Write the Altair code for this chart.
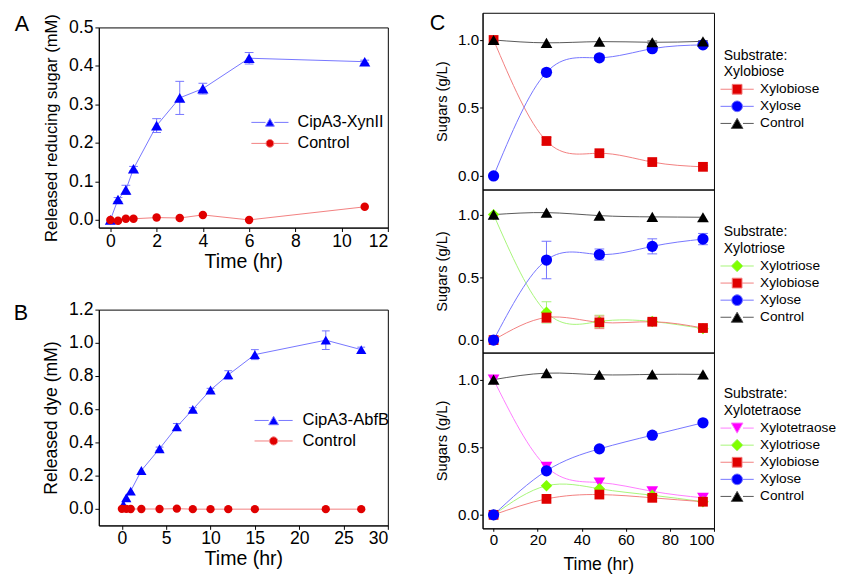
import altair as alt
import pandas as pd

FONT = "Liberation Sans"

# ---------------- data ----------------
# Panel A: released reducing sugar (mM) vs time (hr)
a_time = [0, 0.33, 0.67, 1, 2, 3, 4, 6, 11]
a_xynii = [0.0, 0.053, 0.078, 0.133, 0.245, 0.317, 0.341, 0.420, 0.411]
a_xynii_err = [0.0, 0.005, 0.012, 0.006, 0.018, 0.043, 0.014, 0.015, 0.004]
a_control = [0.0, -0.002, 0.003, 0.003, 0.006, 0.005, 0.013, 0.0, 0.034]
a_control_err = [0, 0, 0, 0, 0, 0, 0, 0, 0]

# Panel B: released dye (mM) vs time (hr)
b_time = [0.17, 0.5, 1, 2.2, 4.25, 6.2, 8, 10, 12, 15, 23, 27]
b_abfb = [0.025, 0.067, 0.107, 0.231, 0.362, 0.494, 0.599, 0.716, 0.807, 0.929, 1.016, 0.959]
b_abfb_err = [0, 0, 0, 0, 0.01, 0.02, 0.01, 0.01, 0.025, 0.03, 0.056, 0.015]
b_control_time = [0, 0.5, 1, 2.2, 4.25, 6.2, 8, 10, 12, 15, 23, 27]
b_control = [0.0, 0.0, -0.001, -0.001, -0.001, 0.001, -0.002, -0.002, -0.002, -0.002, -0.002, -0.002]
b_control_err = [0, 0, 0, 0, 0, 0, 0, 0, 0, 0, 0, 0]

# Panel C: sugars (g/L) vs time (hr)
c_time = [0, 24, 48, 72, 95]
c1_xylobiose = [1.0, 0.257, 0.167, 0.102, 0.067]
c1_xylobiose_err = [0, 0.025, 0.012, 0.01, 0.008]
c1_xylose = [0.0, 0.762, 0.869, 0.936, 0.964]
c1_xylose_err = [0, 0.022, 0.02, 0.012, 0.01]
c1_control = [1.0, 0.979, 0.988, 0.983, 0.99]
c1_control_err = [0, 0, 0, 0.01, 0.005]

c2_xylotriose = [1.0, 0.221, 0.148, 0.148, 0.091]
c2_xylotriose_err = [0, 0.085, 0.05, 0.02, 0.02]
c2_xylobiose = [0.0, 0.18, 0.141, 0.146, 0.096]
c2_xylobiose_err = [0, 0.04, 0.05, 0.02, 0.02]
c2_xylose = [0.0, 0.638, 0.682, 0.747, 0.805]
c2_xylose_err = [0, 0.15, 0.044, 0.06, 0.045]
c2_control = [1.0, 1.016, 0.992, 0.982, 0.979]
c2_control_err = [0, 0, 0, 0, 0]

c3_xylotetraose = [1.0, 0.355, 0.239, 0.174, 0.126]
c3_xylotriose = [0.0, 0.215, 0.193, 0.145, 0.097]
c3_xylobiose = [0.0, 0.118, 0.150, 0.126, 0.097]
c3_xylose = [0.0, 0.326, 0.488, 0.589, 0.681]
c3_control = [1.0, 1.048, 1.036, 1.039, 1.039]
c3_zero_err = [0, 0, 0, 0, 0]

# ---------------- styles ----------------
BLUE = ("#0000ff", "#7373ff")
RED = ("#e00000", "#f27d7d")
GREEN = ("#80ff00", "#a6f577")
MAGENTA = ("#ff00ff", "#ff7aff")
BLACK = ("#000000", "#555555")


def sym_path(shape, line_half, r, unit):
    L = line_half / unit
    s = r / unit
    if shape == "circle":
        m = f"M{s:.3f},0A{s:.3f},{s:.3f},0,1,1,{-s:.3f},0A{s:.3f},{s:.3f},0,1,1,{s:.3f},0Z"
    elif shape == "square":
        m = f"M{-s:.3f},{-s:.3f}H{s:.3f}V{s:.3f}H{-s:.3f}Z"
    elif shape == "triangle-up":
        h = s * 0.866
        m = f"M0,{-h:.3f}L{s:.3f},{h:.3f}L{-s:.3f},{h:.3f}Z"
    elif shape == "triangle-down":
        h = s * 0.866
        m = f"M0,{h:.3f}L{s:.3f},{-h:.3f}L{-s:.3f},{-h:.3f}Z"
    else:  # diamond
        m = f"M0,{-s:.3f}L{s:.3f},0L0,{s:.3f}L{-s:.3f},0Z"
    return f"M{-L:.3f},0H{-s:.3f}M{s:.3f},0H{L:.3f}" + m


def make_panel(series, xdom, ydom, width, height, xaxis, yaxis, legend,
               interp, cap, title, leg_line, leg_unit):
    frames = []
    for s in series:
        frames.append(pd.DataFrame({"time": s["t"], "value": s["v"],
                                    "err": s["e"], "series": s["name"]}))
    df = pd.concat(frames, ignore_index=True)
    df["lo"] = df["value"] - df["err"]
    df["hi"] = df["value"] + df["err"]
    base = alt.Chart(df)

    def X():
        return alt.X("time:Q", scale=alt.Scale(domain=xdom, nice=False, zero=False), axis=xaxis)

    def Y(field="value"):
        return alt.Y(f"{field}:Q", scale=alt.Scale(domain=ydom, nice=False, zero=False), axis=yaxis)

    layers = []
    for s in series:
        sel = base.transform_filter(alt.datum.series == s["name"])
        layers.append(sel.mark_line(color=s["c"][1], strokeWidth=1, interpolate=interp)
                      .encode(x=X(), y=Y()))
    for s in series:
        e = base.transform_filter((alt.datum.series == s["name"]) & (alt.datum.err > 0))
        layers.append(e.mark_rule(color=s["c"][1], strokeWidth=1)
                      .encode(x=X(), y=Y("lo"), y2="hi:Q"))
        for f in ("lo", "hi"):
            layers.append(e.mark_tick(orient="horizontal", color=s["c"][1], thickness=1,
                                      size=cap, opacity=1)
                          .encode(x=X(), y=Y(f)))
    for s in series:
        sel = base.transform_filter(alt.datum.series == s["name"])
        layers.append(sel.mark_point(shape=s["shape"], filled=True, size=s["size"],
                                     color=s["c"][0], opacity=1)
                      .encode(x=X(), y=Y()))
    names = [s["name"] for s in series]
    paths = [sym_path(s["shape"], leg_line, s["lr"], leg_unit) for s in series]
    leg = base.transform_filter("false").mark_point(filled=True, opacity=1).encode(
        x=X(), y=Y(),
        fill=alt.Fill("series:N", scale=alt.Scale(domain=names, range=[s["c"][0] for s in series]),
                      legend=legend),
        stroke=alt.Stroke("series:N", scale=alt.Scale(domain=names, range=[s["c"][1] for s in series]),
                          legend=legend),
        shape=alt.Shape("series:N", scale=alt.Scale(domain=names, range=paths), legend=legend),
    )
    layers.append(leg)
    ch = alt.layer(*layers).properties(width=width, height=height)
    if title is not None:
        ch = ch.properties(title=title)
    return ch


def letter(txt, dx, dy):
    return alt.Title(txt, anchor="start", frame="group", orient="top", offset=0,
                     baseline="alphabetic", dx=dx, dy=dy, fontSize=22, fontWeight="normal",
                     font=FONT, color="black")


def ab_axis_x(vals, size, tsize, tpad):
    return alt.Axis(values=vals, format="d", title="Time (hr)", titleFontSize=tsize,
                    labelFontSize=size, tickSize=4, labelPadding=1, titlePadding=tpad)


def ab_legend(x, y, size, unit, sym_off, lab_off, rowpad):
    return alt.Legend(title=None, orient="none", legendX=x, legendY=y, labelFontSize=size,
                      labelFont=FONT, labelColor="black", symbolSize=(2 * unit) ** 2,
                      symbolStrokeWidth=1, symbolOffset=sym_off, labelOffset=lab_off,
                      rowPadding=rowpad, padding=0)


# ---------------- panel A ----------------
A = make_panel(
    [dict(name="CipA3-XynII", t=a_time, v=a_xynii, e=a_xynii_err, c=BLUE,
          shape="triangle-up", size=130, lr=4.5),
     dict(name="Control", t=a_time, v=a_control, e=a_control_err, c=RED,
          shape="circle", size=75, lr=4.0)],
    xdom=[-0.5, 12], ydom=[-0.02, 0.5], width=296, height=205,
    xaxis=ab_axis_x([0, 2, 4, 6, 8, 10, 12], 18, 20, 2),
    yaxis=alt.Axis(values=[0, 0.1, 0.2, 0.3, 0.4, 0.5], format=".1f",
                   title="Released reducing sugar (mM)", titleFontSize=17,
                   labelFontSize=18, tickSize=4, labelPadding=2, titlePadding=8),
    legend=ab_legend(151, 89, 16.5, 3, 16, 20, 4.5),
    interp="linear", cap=9, title=letter("A", -86, 39.5), leg_line=19, leg_unit=3)

# ---------------- panel B ----------------
B = make_panel(
    [dict(name="CipA3-AbfB", t=b_time, v=b_abfb, e=b_abfb_err, c=BLUE,
          shape="triangle-up", size=110, lr=5.0),
     dict(name="Control", t=b_control_time, v=b_control, e=b_control_err, c=RED,
          shape="circle", size=72, lr=4.2)],
    xdom=[-2.6, 30], ydom=[-0.1, 1.2], width=296, height=221,
    xaxis=ab_axis_x([0, 5, 10, 15, 20, 25, 30], 18, 20, 1),
    yaxis=alt.Axis(values=[0, 0.2, 0.4, 0.6, 0.8, 1.0, 1.2], format=".1f",
                   title="Released dye (mM)", titleFontSize=18,
                   labelFontSize=18, tickSize=4, labelPadding=2, titlePadding=8),
    legend=ab_legend(154, 105, 17, 3, 16.5, 21, 3),
    interp="linear", cap=8, title=letter("B", -87, 41.5), leg_line=19.5, leg_unit=3)

# ---------------- panel C ----------------
c_y = alt.Axis(values=[0, 0.5, 1.0], format=".1f", title="Sugars (g/L)", titleFontSize=15,
               labelFontSize=15.5, tickSize=3, labelPadding=1, titlePadding=8)
c_x = alt.Axis(values=[0, 20, 40, 60, 80, 100], format="d", title="Time (hr)", titleFontSize=18,
               labelFontSize=15.5, tickSize=3, labelPadding=2, titlePadding=8)


def c_legend(name, y):
    return alt.Legend(title=["Substrate:", name], orient="none", legendX=247, legendY=y,
                      titleFontSize=14.3, titleFontWeight="normal", titleFont=FONT,
                      titleColor="black", titleLineHeight=17, titlePadding=3,
                      labelFontSize=14, labelFont=FONT, labelColor="black",
                      symbolSize=36, symbolStrokeWidth=1, symbolOffset=6.7, labelOffset=16.5,
                      rowPadding=1.5, padding=0)


C_COMMON = dict(xdom=[-5, 100], ydom=[-0.1, 1.2], width=237, yaxis=c_y, interp="natural",
                cap=10, leg_line=17, leg_unit=3)

C1 = make_panel(
    [dict(name="Xylobiose", t=c_time, v=c1_xylobiose, e=c1_xylobiose_err, c=RED,
          shape="square", size=100, lr=5),
     dict(name="Xylose", t=c_time, v=c1_xylose, e=c1_xylose_err, c=BLUE,
          shape="circle", size=132, lr=5.5),
     dict(name="Control", t=c_time, v=c1_control, e=c1_control_err, c=BLACK,
          shape="triangle-up", size=144, lr=6)],
    height=181, xaxis=None, legend=c_legend("Xylobiose", 37), title=letter("C", -54, 40),
    **C_COMMON)

C2 = make_panel(
    [dict(name="Xylotriose", t=c_time, v=c2_xylotriose, e=c2_xylotriose_err, c=GREEN,
          shape="diamond", size=137, lr=6),
     dict(name="Xylobiose", t=c_time, v=c2_xylobiose, e=c2_xylobiose_err, c=RED,
          shape="square", size=100, lr=5),
     dict(name="Xylose", t=c_time, v=c2_xylose, e=c2_xylose_err, c=BLUE,
          shape="circle", size=132, lr=5.5),
     dict(name="Control", t=c_time, v=c2_control, e=c2_control_err, c=BLACK,
          shape="triangle-up", size=144, lr=6)],
    height=167, xaxis=None, legend=c_legend("Xylotriose", 37), title=None, **C_COMMON)

C3 = make_panel(
    [dict(name="Xylotetraose", t=c_time, v=c3_xylotetraose, e=c3_zero_err, c=MAGENTA,
          shape="triangle-down", size=144, lr=6),
     dict(name="Xylotriose", t=c_time, v=c3_xylotriose, e=c3_zero_err, c=GREEN,
          shape="diamond", size=137, lr=6),
     dict(name="Xylobiose", t=c_time, v=c3_xylobiose, e=c3_zero_err, c=RED,
          shape="square", size=100, lr=5),
     dict(name="Xylose", t=c_time, v=c3_xylose, e=c3_zero_err, c=BLUE,
          shape="circle", size=132, lr=5.5),
     dict(name="Control", t=c_time, v=c3_control, e=c3_zero_err, c=BLACK,
          shape="triangle-up", size=144, lr=6)],
    height=180, xaxis=c_x, legend=c_legend("Xylotetraose", 36), title=None, **C_COMMON)

IND = dict(fill="independent", stroke="independent", shape="independent")

spacer = (
    alt.Chart(pd.DataFrame({"v": [0]}))
    .mark_point(opacity=0)
    .encode(x=alt.X("v:Q", axis=None), y=alt.Y("v:Q", axis=None))
    .properties(width=1, height=15, view=alt.ViewBackground(stroke="transparent"))
)

left_inner = alt.vconcat(A, B, spacing=84, bounds="flush").resolve_scale(**IND)
left = alt.vconcat(spacer, left_inner, spacing=0, bounds="flush").resolve_scale(**IND)
right = alt.vconcat(C1, C2, C3, spacing=0, bounds="flush").resolve_scale(**IND)

chart = (
    alt.hconcat(left, right, spacing=393, bounds="flush")
    .resolve_scale(**IND)
    .properties(padding={"left": 5, "top": -3, "right": 0, "bottom": 0})
    .configure(font=FONT)
    .configure_view(stroke="black", strokeWidth=1)
    .configure_axis(grid=False, domainColor="black", tickColor="black", labelColor="black",
                    titleColor="black", labelFont=FONT, titleFont=FONT,
                    titleFontWeight="normal", domainWidth=1, tickWidth=1)
)

chart.save("out.html", embed_options={"renderer": "svg", "actions": False})
